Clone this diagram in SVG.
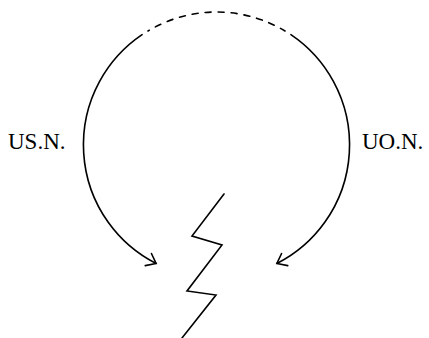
<svg xmlns="http://www.w3.org/2000/svg" width="429" height="338" viewBox="0 0 429 338">
<style>
.ln{fill:none;stroke:#000;stroke-width:1.6;stroke-linecap:round;stroke-linejoin:miter}
.lbl{font-family:"Liberation Serif","Times New Roman",serif;font-size:23px;fill:#000}
</style>
<defs>
<marker id="arr" markerUnits="userSpaceOnUse" markerWidth="24" markerHeight="24" refX="0" refY="0" viewBox="-12 -12 24 24" orient="auto" overflow="visible">
<path d="M-8.7,-6.8 L0,0 L-8.7,6.8" fill="none" stroke="#000" stroke-width="1.6" stroke-linecap="round"/>
</marker>
</defs>
<g id="connectors">
<path id="left-arc" class="ln" d="M142.1,34.7 A133,133 0 0 0 156.1,263.5" marker-end="url(#arr)"/>
<path id="right-arc" class="ln" d="M290.9,34.7 A133,133 0 0 1 276.9,263.5" marker-end="url(#arr)"/>
<path id="top-arc" class="ln" stroke-linecap="butt" stroke-dasharray="1.5 7 6 7 6 7 6 7 6 7 6 7 6 7 6 7 6 7 6 7 6 7 6 7 1.5 7" d="M148,31 A133,133 0 0 1 285,31"/>
</g>
<g id="lightning">
<polyline class="ln" points="224,194 192,236 222,245 187,291 216,295 182,338"/>
</g>
<g id="label-usn">
<text class="lbl" x="8" y="149">US.N.</text>
</g>
<g id="label-uon">
<text class="lbl" x="362" y="149">UO.N.</text>
</g>
</svg>
